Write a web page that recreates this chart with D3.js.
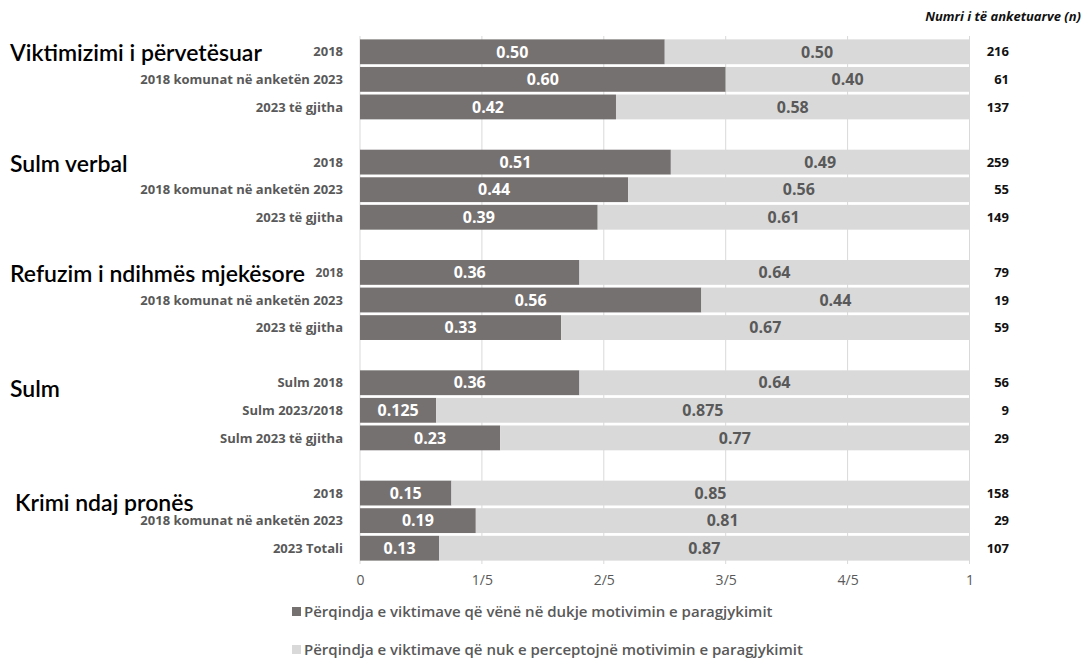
<!DOCTYPE html>
<html><head><meta charset="utf-8">
<script src="https://cdn.jsdelivr.net/npm/d3@7"></script>
<style>body{margin:0;background:#fff}svg{display:block}</style>
</head><body><svg id="c" width="1087" height="659"></svg>
<script>
const groups = ["Viktimizimi i përvetësuar","Sulm verbal","Refuzim i ndihmës mjekësore","Sulm","Krimi ndaj pronës"];
const rowLabels = [
  ["2018","2018 komunat në anketën 2023","2023 të gjitha"],
  ["2018","2018 komunat në anketën 2023","2023 të gjitha"],
  ["2018","2018 komunat në anketën 2023","2023 të gjitha"],
  ["Sulm 2018","Sulm 2023/2018","Sulm 2023 të gjitha"],
  ["2018","2018 komunat në anketën 2023","2023 Totali"]
];
const perceived = [
  [0.50,0.60,0.42],[0.51,0.44,0.39],[0.36,0.56,0.33],[0.36,0.125,0.23],[0.15,0.19,0.13]
];
const notPerceived = [
  [0.50,0.40,0.58],[0.49,0.56,0.61],[0.64,0.44,0.67],[0.64,0.875,0.77],[0.85,0.81,0.87]
];
const respondents = [
  [216,61,137],[259,55,149],[79,19,59],[56,9,29],[158,29,107]
];
const tickValues = [0,0.2,0.4,0.6,0.8,1];
const tickLabels = ["0","1/5","2/5","3/5","4/5","1"];
const legendLabels = [
  "Përqindja e viktimave që vënë në dukje motivimin e paragjykimit",
  "Përqindja e viktimave që nuk e perceptojnë motivimin e paragjykimit"
];
const nTitle = "Numri i të anketuarve (n)";

const DARK = "#767171", LIGHT = "#d9d9d9";
const FONT = "'Open Sans', sans-serif";
const TFONT = "Lato, 'Open Sans', sans-serif";

const rows = [];
const slots = [];
groups.forEach((g, gi) => {
  rowLabels[gi].forEach((lab, ri) => {
    const id = `r${gi}_${ri}`;
    slots.push(id);
    rows.push({id, gi, ri, label: lab, a: perceived[gi][ri], b: notPerceived[gi][ri], n: respondents[gi][ri]});
  });
  if (gi < groups.length - 1) slots.push(`gap${gi}`);
});

const svg = d3.select("#c");
const x = d3.scaleLinear().domain([0, 1]).range([360, 969.5]);
const y = d3.scaleBand().domain(slots).range([38, 562]).paddingInner(0.1).paddingOuter(0.05);
const fmt = v => Math.abs(v * 100 - Math.round(v * 100)) < 1e-9 ? v.toFixed(2) : v.toFixed(3);

svg.append("g").selectAll("line").data(tickValues).join("line")
  .attr("x1", d => x(d)).attr("x2", d => x(d))
  .attr("y1", 36).attr("y2", 564)
  .attr("stroke", "#d9d9d9").attr("stroke-width", 1);

const ax = svg.append("g").attr("transform", "translate(0,564)")
  .call(d3.axisBottom(x).tickValues(tickValues).tickFormat((d, i) => tickLabels[i]).tickSize(0).tickPadding(11));
ax.select(".domain").remove();
ax.selectAll("text").attr("font-family", FONT).attr("font-size", 14).attr("fill", "#595959");

const bars = svg.append("g");
bars.selectAll("rect.a").data(rows).join("rect").attr("class", "a")
  .attr("x", x(0)).attr("y", d => y(d.id)).attr("width", d => x(d.a) - x(0)).attr("height", y.bandwidth())
  .attr("fill", DARK);
bars.selectAll("rect.b").data(rows).join("rect").attr("class", "b")
  .attr("x", d => x(d.a)).attr("y", d => y(d.id)).attr("width", d => x(1) - x(d.a)).attr("height", y.bandwidth())
  .attr("fill", LIGHT);

bars.selectAll("text.a").data(rows).join("text").attr("class", "a")
  .attr("x", d => x(d.a / 2)).attr("y", d => y(d.id) + y.bandwidth() / 2).attr("dy", "0.36em")
  .attr("text-anchor", "middle").attr("font-family", FONT).attr("font-weight", 700).attr("font-size", 16)
  .attr("fill", "#fff").text(d => fmt(d.a));
bars.selectAll("text.b").data(rows).join("text").attr("class", "b")
  .attr("x", d => x(d.a + d.b / 2)).attr("y", d => y(d.id) + y.bandwidth() / 2).attr("dy", "0.36em")
  .attr("text-anchor", "middle").attr("font-family", FONT).attr("font-weight", 700).attr("font-size", 16)
  .attr("fill", "#595959").text(d => fmt(d.b));

svg.append("g").selectAll("text").data(rows).join("text")
  .attr("x", 343).attr("y", d => y(d.id) + y.bandwidth() / 2).attr("dy", "0.36em")
  .attr("text-anchor", "end").attr("font-family", FONT).attr("font-weight", 700)
  .attr("font-size", d => (d.gi === 2 && d.ri === 0) ? 12 : 13)
  .attr("fill", "#595959").text(d => d.label);

svg.append("g").selectAll("text").data(rows).join("text")
  .attr("x", 1009).attr("y", d => y(d.id) + y.bandwidth() / 2).attr("dy", "0.36em")
  .attr("text-anchor", "end").attr("font-family", FONT).attr("font-weight", 700).attr("font-size", 13)
  .attr("fill", "#111").text(d => d.n);

svg.append("text").attr("x", 1081).attr("y", 21).attr("text-anchor", "end")
  .attr("font-family", FONT).attr("font-style", "italic").attr("font-weight", 700).attr("font-size", 13)
  .attr("fill", "#111").text(nTitle);

const titleOffset = [0.05, 0.05, 0.05, 0.2, 0.35];
const titleX = [10, 10, 10, 10, 15];
svg.append("g").selectAll("text").data(groups).join("text")
  .attr("x", (d, i) => titleX[i])
  .attr("y", (d, i) => y(`r${i}_0`) + y.bandwidth() / 2 + titleOffset[i] * y.step())
  .attr("dy", "0.36em").attr("font-family", TFONT).attr("font-size", 23).attr("font-weight", 600)
  .attr("fill", "#000").text(d => d);

const lg = svg.append("g").selectAll("g").data(legendLabels).join("g")
  .attr("transform", (d, i) => `translate(292,${612 + i * 38})`);
lg.append("rect").attr("x", 0).attr("y", -5).attr("width", 9).attr("height", 9)
  .attr("fill", (d, i) => i === 0 ? DARK : LIGHT);
lg.append("text").attr("x", 12).attr("y", 0).attr("dy", "0.36em")
  .attr("font-family", FONT).attr("font-weight", 600).attr("font-size", 15).attr("fill", "#595959")
  .text(d => d);
</script></body></html>
